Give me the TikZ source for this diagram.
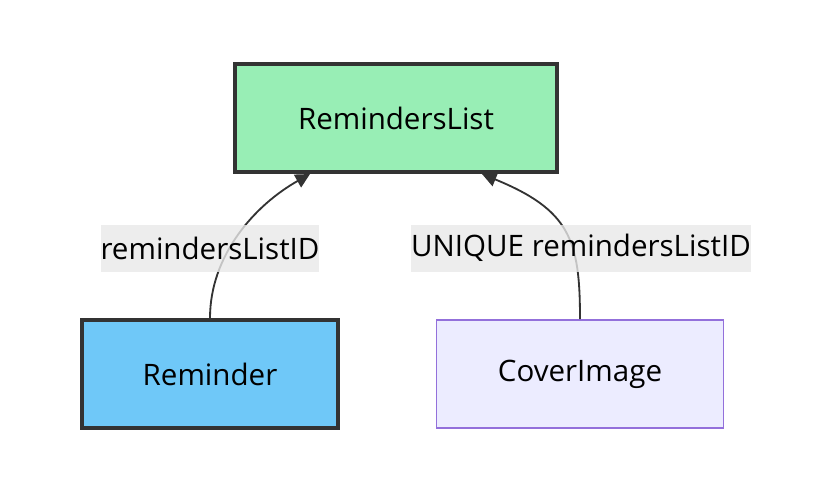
\documentclass[tikz,border=0pt]{standalone}
\usepackage{fontspec}
\setmainfont{Open Sans}
\usetikzlibrary{arrows.meta}

\definecolor{listgreen}{HTML}{98EEB5}
\definecolor{itemblue}{HTML}{6FC8F8}
\definecolor{coverfill}{HTML}{ECECFF}
\definecolor{coverline}{HTML}{9370DB}
\definecolor{darkline}{HTML}{333333}
\definecolor{labelbg}{HTML}{E8E8E8}

\begin{document}
\begin{tikzpicture}[x=0.025cm, y=-0.025cm,
    font=\fontsize{21}{25}\selectfont,
    entity/.style={draw=darkline, line width=2.6pt, minimum height=2.7cm, inner sep=0pt},
    rel/.style={draw=darkline, line width=1.3pt, -{Triangle[length=0.36cm, width=0.36cm]}},
    rellabel/.style={fill=labelbg, fill opacity=0.8, text opacity=1, inner xsep=0pt, inner ysep=0pt, minimum height=1.175cm}]
  \useasboundingbox (0,0) rectangle (822,496);
  \node[entity, fill=listgreen, minimum width=8.05cm] (rl) at (396,118) {RemindersList};
  \node[entity, fill=itemblue, minimum width=6.4cm] (rem) at (210,374) {Reminder};
  \node[entity, draw=coverline, line width=1.2pt, fill=coverfill, minimum width=7.175cm] (cov) at (580,374) {CoverImage};
  \coordinate (t1) at (310,174);
  \coordinate (t2) at (482,174);
  \draw[rel] (rem.north) .. controls (210,255) and (255,205) .. (t1);
  \draw[rel] (cov.north) .. controls (580,240) and (570,210) .. (t2);
  \node[rellabel] (l1) at (210,248) {remindersListID};
  \node[rellabel] (l2) at (581,248) {UNIQUE remindersListID};
\end{tikzpicture}
\end{document}
